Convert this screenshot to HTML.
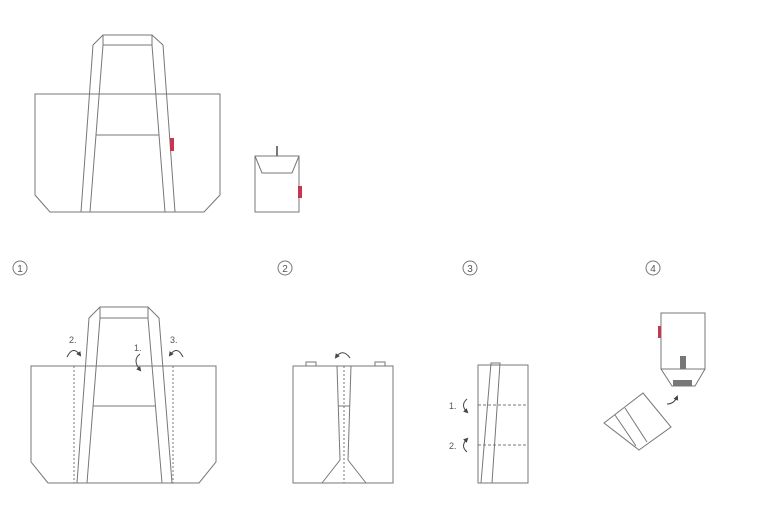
<!DOCTYPE html>
<html><head><meta charset="utf-8"><style>
html,body{margin:0;padding:0;background:#fff;}
svg{display:block;}
text{font-family:"Liberation Sans",sans-serif;fill:#555;}
</style></head><body>
<svg width="761" height="519" viewBox="0 0 761 519" xmlns="http://www.w3.org/2000/svg">
<defs><marker id="a" markerWidth="5" markerHeight="5" refX="3" refY="2.5" orient="auto"><path d="M0,0 L5,2.5 L0,5 Z" fill="#444"/></marker></defs>
<g fill="none" stroke="#777" stroke-width="1">
<path d="M35,94 H220 V195 L204,212 H50 L35,195 Z"/>
<path d="M81,212 L93,45 L103,35 H152 L163,45 L175,212"/>
<path d="M90,212 L103,45 H152 L165,212"/>
<path d="M103,35 V45 M152,35 V45"/>
<path d="M96,135 H159"/>
<path d="M255,156 H299 V212 H255 Z"/>
<path d="M255,156 L262,173 H292 L299,156"/>
<circle cx="20" cy="268" r="7"/>
<circle cx="285" cy="268" r="7"/>
<circle cx="470" cy="268" r="7"/>
<circle cx="653" cy="268" r="7"/>
<path d="M31,366 H216 V462 L199,483 H48 L31,462 Z"/>
<path d="M77,483 L89,318 L100,307 H148 L159,318 L172,483"/>
<path d="M87,483 L100,318 H148 L162,483"/>
<path d="M100,307 V318 M148,307 V318"/>
<path d="M93,406 H155"/>
<path d="M74,366 V483 M173,366 V483" stroke-dasharray="2,2"/>
<path d="M67,357 Q73,345 80,355" stroke="#444" marker-end="url(#a)"/>
<path d="M183,357 Q177,345 170,355" stroke="#444" marker-end="url(#a)"/>
<path d="M140,354 Q132,360 140,370" stroke="#444" marker-end="url(#a)"/>
<path d="M337,366 L340,460 L322,483 M351,366 L348,460 L366,483"/>
<path d="M293,366 H393 V483 H293 Z"/>
<path d="M306,366 V362 H316 V366 M375,366 V362 H385 V366"/>
<path d="M338,406 H350"/>
<path d="M344,366 V483" stroke-dasharray="2,2"/>
<path d="M350,358 Q343,348 336,357" stroke="#444" marker-end="url(#a)"/>
<path d="M478,365 H528 V483 H478 Z"/>
<path d="M481,483 L491,363 H500 L492,483"/>
<path d="M478,405 H528 M478,445 H528" stroke-dasharray="3,2"/>
<path d="M467,399 Q460,405 467,412" stroke="#444" marker-end="url(#a)"/>
<path d="M467,452 Q460,446 467,439" stroke="#444" marker-end="url(#a)"/>
<path d="M661,313 H705 V369 H661 Z"/>
<path d="M661,369 L672,386 H695 L705,369"/>
<path d="M604,423 L643,393 L671,427 L639,450 Z"/>
<path d="M615,415 L636,446 M625,408 L647,442"/>
<path d="M667,404 Q674,404 677,397" stroke="#444" marker-end="url(#a)"/>
</g>
<g fill="#c8364e">
<rect x="170" y="138" width="4" height="13"/>
<rect x="298" y="186" width="4" height="12"/>
<rect x="658" y="326" width="3" height="12"/>
</g>
<g fill="#777">
<rect x="276" y="146" width="2" height="10"/>
<rect x="680" y="356" width="6" height="13"/>
<rect x="673" y="380" width="19" height="6"/>
</g>
<g font-size="10" text-anchor="middle">
<text x="20" y="272">1</text>
<text x="285" y="272">2</text>
<text x="470" y="272">3</text>
<text x="653" y="272">4</text>
</g>
<g font-size="9">
<text x="69" y="343">2.</text>
<text x="170" y="343">3.</text>
<text x="134" y="351">1.</text>
<text x="449" y="409">1.</text>
<text x="449" y="449">2.</text>
</g>
</svg>
</body></html>
